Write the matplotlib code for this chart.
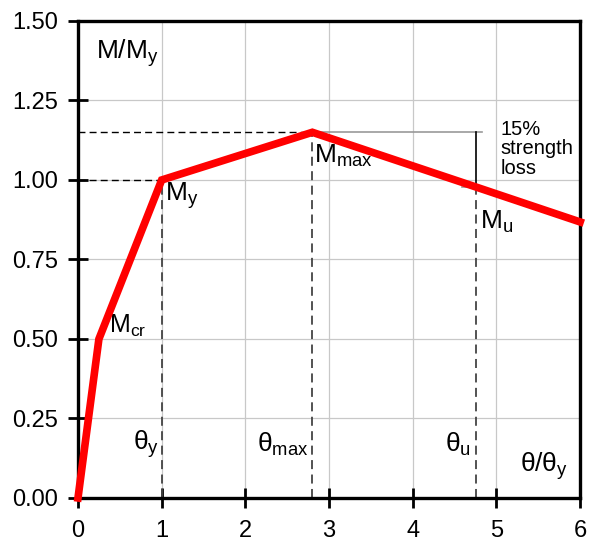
import matplotlib
matplotlib.use("Agg")
import matplotlib.pyplot as plt

plt.rcParams['font.family'] = ['Liberation Sans', 'DejaVu Sans']
plt.rcParams['mathtext.fontset'] = 'custom'
plt.rcParams['mathtext.rm'] = 'Liberation Sans'

# backbone curve points (theta/theta_y, M/M_y)
curve_x = [0.0, 0.25, 1.0, 2.8, 4.76, 6.0]
curve_y = [0.0, 0.50, 1.0, 1.15, 0.9775, 0.868]

theta_y = 1.0
theta_max = 2.8
theta_u = 4.76
m_y = 1.0
m_max = 1.15
m_u = 0.9775

x_ticks = [0, 1, 2, 3, 4, 5, 6]
y_ticks = [0.00, 0.25, 0.50, 0.75, 1.00, 1.25, 1.50]

fig = plt.figure(figsize=(5.89, 5.44), dpi=100)
ax = fig.add_axes([0.1324, 0.0846, 0.8526, 0.8768])

ax.set_xlim(0, 6)
ax.set_ylim(0, 1.5)
ax.set_xticks(x_ticks)
ax.set_yticks(y_ticks)
ax.set_yticklabels([f"{v:.2f}" for v in y_ticks])
ax.grid(True, color="#c8c8c8", linewidth=0.9)
ax.set_axisbelow(True)
for s in ax.spines.values():
    s.set_linewidth(2.4)
ax.tick_params(direction="inout", length=15, width=2.0, labelsize=17, pad=7)
ax.tick_params(axis="x", pad=8)

# dashed guides
ax.plot([0, theta_y], [m_y, m_y], color="black", ls=(0, (5, 3)), lw=1.0)
ax.plot([theta_y, theta_y], [0, m_y], color="#444444", ls=(0, (5, 3)), lw=1.3)
ax.plot([0, theta_max], [m_max, m_max], color="black", ls=(0, (5, 3)), lw=1.0)
ax.plot([theta_max, theta_max], [0, m_max], color="#444444", ls=(0, (5, 3)), lw=1.3)
ax.plot([theta_u, theta_u], [0, m_u], color="#444444", ls=(0, (5, 3)), lw=1.3)

# 15% strength loss marker
ax.plot([2.89, 4.83], [m_max, m_max], color="#999999", lw=1.2)
ax.plot([4.59, theta_u], [m_u, m_u], color="#999999", lw=1.2)
ax.plot([theta_u, theta_u], [m_max, m_u], color="black", lw=1.2)

ax.plot(curve_x, curve_y, color="#ff0000", lw=5.5, solid_joinstyle="miter", clip_on=False, zorder=5)

fs = 19
ax.text(0.22, 1.40, r"M/M$_\mathregular{y}$", fontsize=fs, va="center")
ax.text(0.37, 0.50, r"M$_\mathregular{cr}$", fontsize=fs - 1, va="bottom")
ax.text(1.04, 0.95, r"M$_\mathregular{y}$", fontsize=fs, va="center")
ax.text(2.82, 1.075, r"M$_\mathregular{max}$", fontsize=fs, va="center")
ax.text(4.80, 0.87, r"M$_\mathregular{u}$", fontsize=fs, va="center")
ax.text(5.05, 1.19, "15%\nstrength\nloss", fontsize=14.5, va="top", linespacing=1.05)
ax.text(0.66, 0.17, r"θ$_\mathregular{y}$", fontsize=fs, va="center")
ax.text(2.14, 0.17, r"θ$_\mathregular{max}$", fontsize=fs, va="center")
ax.text(4.38, 0.17, r"θ$_\mathregular{u}$", fontsize=fs, va="center")
ax.text(5.28, 0.10, r"θ/θ$_\mathregular{y}$", fontsize=fs, va="center")

fig.savefig("out.png", dpi=100)
